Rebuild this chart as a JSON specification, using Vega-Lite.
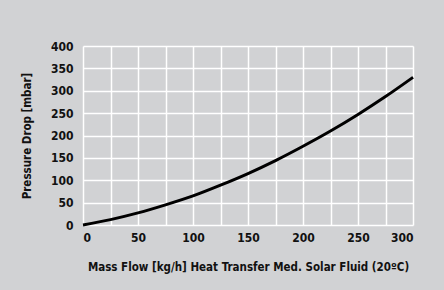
{
  "$schema": "https://vega.github.io/schema/vega-lite/v6.json",
  "width": 330,
  "height": 179,
  "autosize": {"type": "none"},
  "padding": {"left": 83, "top": 46, "right": 31, "bottom": 65},
  "background": "#d1d2d4",
  "config": {
    "view": {"stroke": null, "fill": "#d1d2d4"},
    "font": "DejaVu Sans Condensed",
    "axis": {
      "labelFont": "DejaVu Sans Condensed",
      "labelFontWeight": "bold",
      "labelFontSize": 12,
      "labelColor": "#111111",
      "titleFont": "DejaVu Sans Condensed",
      "titleFontWeight": "bold",
      "titleFontSize": 11.5,
      "titleColor": "#111111",
      "gridColor": "#ffffff",
      "gridWidth": 1.5,
      "gridOpacity": 1,
      "domain": false,
      "ticks": false
    }
  },
  "data": {
    "values": [
      {"flow": 0, "dp": 0},
      {"flow": 25, "dp": 12},
      {"flow": 50, "dp": 27},
      {"flow": 75, "dp": 45},
      {"flow": 100, "dp": 65},
      {"flow": 125, "dp": 89},
      {"flow": 150, "dp": 115},
      {"flow": 175, "dp": 144},
      {"flow": 200, "dp": 176},
      {"flow": 225, "dp": 210},
      {"flow": 250, "dp": 247},
      {"flow": 275, "dp": 287},
      {"flow": 300, "dp": 330}
    ]
  },
  "mark": {"type": "line", "color": "#000000", "strokeWidth": 3, "interpolate": "monotone"},
  "encoding": {
    "x": {
      "field": "flow",
      "type": "quantitative",
      "scale": {"domain": [0, 300], "nice": false},
      "axis": {
        "values": [0, 25, 50, 75, 100, 125, 150, 175, 200, 225, 250, 275, 300],
        "labelExpr": "datum.value % 50 == 0 ? datum.label : ''",
        "labelPadding": 7,
        "titlePadding": 18,
        "title": "Mass Flow [kg/h] Heat Transfer Med. Solar Fluid (20ºC)"
      }
    },
    "y": {
      "field": "dp",
      "type": "quantitative",
      "scale": {"domain": [0, 400], "nice": false},
      "axis": {
        "values": [0, 50, 100, 150, 200, 250, 300, 350, 400],
        "labelPadding": 10,
        "titlePadding": 18,
        "title": "Pressure Drop [mbar]"
      }
    }
  }
}
